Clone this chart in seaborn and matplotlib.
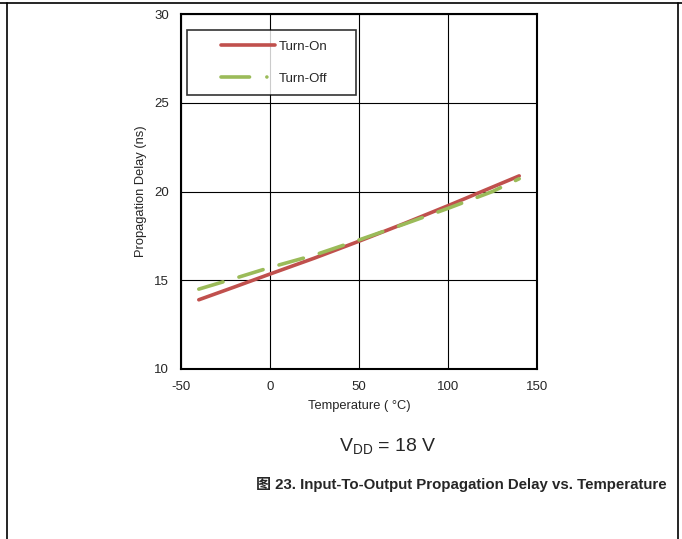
import numpy as np
import pandas as pd
import matplotlib
matplotlib.use("Agg")
import matplotlib.pyplot as plt
import seaborn as sns
from matplotlib.lines import Line2D
from matplotlib.legend_handler import HandlerLine2D

# Data
temp = [-40, -20, 0, 25, 50, 75, 100, 125, 140]
turn_on = [13.9, 14.62, 15.35, 16.25, 17.2, 18.18, 19.2, 20.25, 20.88]
turn_off = [14.5, 15.1, 15.72, 16.42, 17.27, 18.15, 19.05, 20.0, 20.72]

df = pd.DataFrame({
    'Temperature': temp * 2,
    'Delay': turn_on + turn_off,
    'Series': ['Turn-On'] * len(temp) + ['Turn-Off'] * len(temp),
})

sns.set_style('white')
plt.rcParams['font.family'] = ['Liberation Sans', 'Noto Sans CJK SC', 'DejaVu Sans']
plt.rcParams['axes.unicode_minus'] = False


class ShiftedHandler(HandlerLine2D):
    # leave some blank room before the legend line, as in the original
    def __init__(self, shift, **kw):
        super().__init__(**kw)
        self.shift = shift

    def create_artists(self, legend, orig_handle, xdescent, ydescent, width,
                       height, fontsize, trans):
        return super().create_artists(legend, orig_handle, xdescent - self.shift,
                                      ydescent, width - self.shift, height,
                                      fontsize, trans)


fig = plt.figure(figsize=(6.82, 5.39), dpi=100)
ax = fig.add_axes([0.2654, 0.3154, 0.522, 0.6586])

red = '#C0504D'
green = '#9BBB59'
lw = 2.6

sns.lineplot(data=df[df.Series == 'Turn-On'], x='Temperature', y='Delay',
             color=red, lw=lw, ax=ax, legend=False)
sns.lineplot(data=df[df.Series == 'Turn-Off'], x='Temperature', y='Delay',
             color=green, lw=lw, ax=ax, legend=False)
ax.lines[0].set_solid_capstyle('round')
ax.lines[1].set_dashes([7.0, 4.6])
ax.lines[1].set_dash_capstyle('round')

ax.set_xlim(-50, 150)
ax.set_ylim(10, 30)
ax.set_xticks([-50, 0, 50, 100, 150])
ax.set_yticks([10, 15, 20, 25, 30])
ax.grid(True, color='black', lw=0.8)
ax.set_axisbelow(True)
for s in ax.spines.values():
    s.set_color('black')
    s.set_linewidth(1.5)
ax.tick_params(labelsize=9.5, length=0, pad=8.5)
ax.set_xlabel('Temperature ( °C)', fontsize=9.3, labelpad=5.5)
ax.set_ylabel('Propagation Delay (ns)', fontsize=9.3, labelpad=5)

h_on = Line2D([], [], color=red, lw=lw, solid_capstyle='round')
h_off = Line2D([], [], color=green, lw=lw, dashes=[7.9, 4.8, 0.01, 4.8],
               dash_capstyle='round')
leg = ax.legend([h_on, h_off], ['Turn-On', 'Turn-Off'], loc='upper left',
                bbox_to_anchor=(0.0169, 0.955, 0.4747, 0.0), mode='expand',
                fontsize=9.5, frameon=True, fancybox=False, borderpad=0.78,
                labelspacing=1.5, handlelength=5.86, handletextpad=0.32,
                borderaxespad=0,
                handler_map={Line2D: ShiftedHandler(16.7)})
leg.get_frame().set_edgecolor('black')
leg.get_frame().set_linewidth(1.2)

fig.text(0.569, 0.171, r'V$_{\mathregular{DD}}$ = 18 V', fontsize=14,
         ha='center', va='center')
fig.text(0.977, 0.102, '图 23. Input-To-Output Propagation Delay vs. Temperature',
         fontsize=10.8, fontweight='bold', ha='right', va='center')

# page border lines
fig.add_artist(Line2D([0, 1], [0.994, 0.994], color='black', lw=1.2, transform=fig.transFigure))
fig.add_artist(Line2D([0.0105, 0.0105], [0, 0.994], color='black', lw=1.2, transform=fig.transFigure))
fig.add_artist(Line2D([0.9945, 0.9945], [0, 0.994], color='black', lw=1.2, transform=fig.transFigure))

fig.savefig('out.png', dpi=100)
